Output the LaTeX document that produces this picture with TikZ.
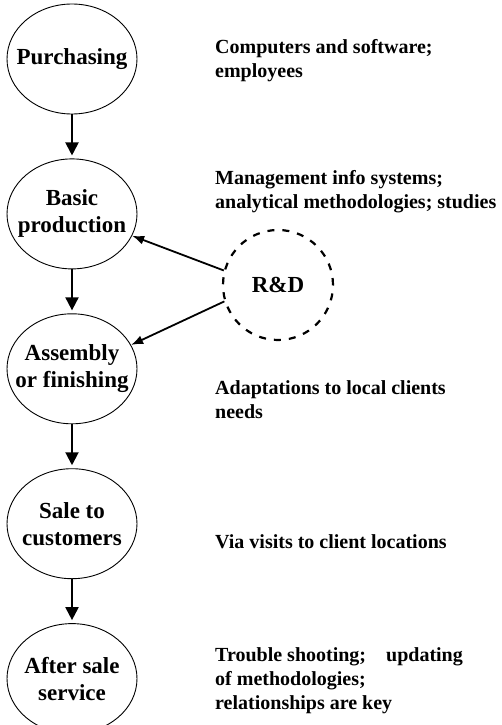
\documentclass[tikz,border=0pt]{standalone}
\usepackage{fontspec}
\setmainfont{Liberation Serif}
\usetikzlibrary{shapes,arrows,arrows.meta,positioning,calc}
\tikzset{
    stage/.style={ellipse, draw, line width=0.9pt, minimum width=130pt, minimum height=110pt, inner xsep=-16pt, inner ysep=0pt, align=center, font=\bfseries\fontsize{23}{27}\selectfont},
    rnd/.style={circle, draw, dashed, dash pattern=on 7pt off 8pt, line width=2.2pt, minimum size=110pt, font=\bfseries\fontsize{23}{27}\selectfont},
    flow/.style={draw, line width=2pt, shorten >=3pt, -{Triangle[length=13pt,width=13pt]}},
    feed/.style={draw, line width=1.8pt, -{Latex[length=12pt,width=9pt]}},
    note/.style={anchor=west, align=left, inner sep=0pt, font=\bfseries\fontsize{20}{24}\selectfont}
}
\begin{document}
\begin{tikzpicture}[x=1pt, y=-1pt, node distance=44pt]
    \useasboundingbox (0,0) rectangle (501,725);
    % Value chain stages
    \node [stage] (purch) at (72,59) {Purchasing};
    \node [stage, below=of purch] (basic) {Basic\\production};
    \node [stage, below=of basic] (assem) {Assembly\\or finishing};
    \node [stage, below=of assem] (sale) {Sale to\\customers};
    \node [stage, below=of sale] (after) {After sale\\service};

    % R&D support
    \node [rnd] (rd) at (278,285) {R\&D};

    % Connections
    \path [flow] (purch) -- (basic);
    \path [flow] (basic) -- (assem);
    \path [flow] (assem) -- (sale);
    \path [flow] (sale) -- (after);
    \path [feed] (rd.165) -- (basic.-20);
    \path [feed] (rd.197) -- (assem.22);

    % Notes on each stage
    \node [note] (npurch) at ([shift={(143pt,-2pt)}]purch.center) {Computers and software;\\employees};
    \node [note] (nbasic) at ([shift={(143pt,22pt)}]basic.center) {Management info systems;\\analytical methodologies; studies};
    \node [note] (nassem) at ([shift={(143pt,-31pt)}]assem.center) {Adaptations to local clients\\needs};
    \node [note] (nsale) at ([shift={(143pt,-18pt)}]sale.center) {Via visits to client locations};
    \node [note] (nafter) at ([shift={(143pt,-2pt)}]after.center) {Trouble shooting;\quad updating\\of methodologies;\\relationships are key};
\end{tikzpicture}
\end{document}
